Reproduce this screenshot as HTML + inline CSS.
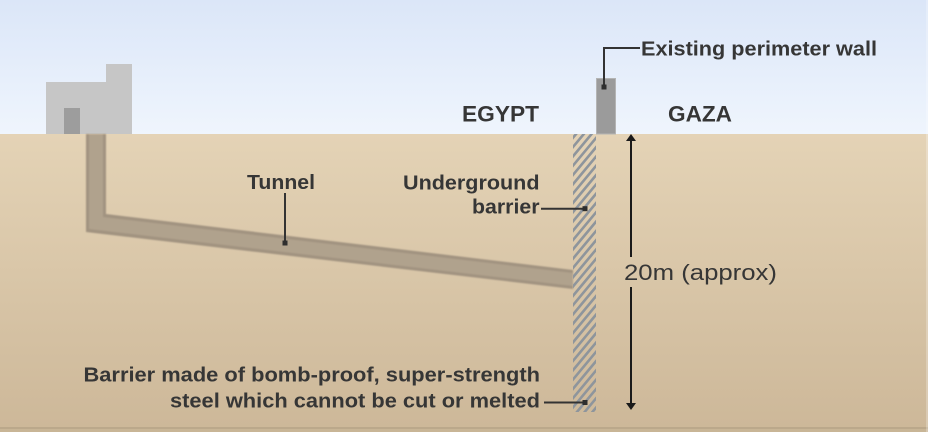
<!DOCTYPE html>
<html><head><meta charset="utf-8"><style>
html,body{margin:0;padding:0;width:928px;height:432px;overflow:hidden;background:#e0cfb2}
svg{display:block}
text{font-family:"Liberation Sans",Arial,sans-serif;fill:#363636}
.b{font-weight:bold}
</style></head><body>
<svg width="928" height="432" viewBox="0 0 928 432" xmlns="http://www.w3.org/2000/svg">
<defs>
<linearGradient id="sky" x1="0" y1="0" x2="0" y2="1">
<stop offset="0" stop-color="#dbe6f8"/><stop offset="1" stop-color="#eff5fd"/>
</linearGradient>
<linearGradient id="gnd" x1="0" y1="0" x2="0" y2="1">
<stop offset="0" stop-color="#e4d3b6"/><stop offset="1" stop-color="#cdb899"/>
</linearGradient>
<clipPath id="hc"><rect x="573" y="134" width="23" height="278"/></clipPath>
<filter id="soft" x="-5%" y="-5%" width="110%" height="110%"><feGaussianBlur stdDeviation="0.7"/></filter>
</defs>
<rect x="0" y="0" width="928" height="134" fill="url(#sky)"/>
<rect x="0" y="134" width="928" height="293" fill="url(#gnd)"/>
<rect x="0" y="427" width="928" height="2" fill="#bba88b"/>
<rect x="0" y="429" width="928" height="3" fill="#c8b596"/>
<rect x="926" y="0" width="2" height="432" fill="#ffffff" opacity="0.25"/>

<!-- house -->
<rect x="46" y="82" width="86" height="52" fill="#c6c6c6"/>
<rect x="106" y="64" width="26" height="20" fill="#c6c6c6"/>
<rect x="64" y="108" width="16" height="26" fill="#9d9d9d"/>

<!-- tunnel -->
<g filter="url(#soft)">
<polygon points="86,134 106,134 106,214 573,270 573,289 86,232" fill="#a19380"/>
<polygon points="89,134 103,134 103,217 573,273 573,286 89,229" fill="#b0a28d"/>
</g>

<!-- hatched barrier -->
<g clip-path="url(#hc)" stroke="#8e959c" stroke-width="2.6">
<line x1="568" y1="134.4" x2="600" y2="96"/>
<line x1="568" y1="143.7" x2="600" y2="105.3"/>
<line x1="568" y1="153" x2="600" y2="114.6"/>
<line x1="568" y1="162.3" x2="600" y2="123.9"/>
<line x1="568" y1="171.6" x2="600" y2="133.2"/>
<line x1="568" y1="180.9" x2="600" y2="142.5"/>
<line x1="568" y1="190.2" x2="600" y2="151.8"/>
<line x1="568" y1="199.5" x2="600" y2="161.1"/>
<line x1="568" y1="208.8" x2="600" y2="170.4"/>
<line x1="568" y1="218.1" x2="600" y2="179.7"/>
<line x1="568" y1="227.4" x2="600" y2="189"/>
<line x1="568" y1="236.7" x2="600" y2="198.3"/>
<line x1="568" y1="246" x2="600" y2="207.6"/>
<line x1="568" y1="255.3" x2="600" y2="216.9"/>
<line x1="568" y1="264.6" x2="600" y2="226.2"/>
<line x1="568" y1="273.9" x2="600" y2="235.5"/>
<line x1="568" y1="283.2" x2="600" y2="244.8"/>
<line x1="568" y1="292.5" x2="600" y2="254.1"/>
<line x1="568" y1="301.8" x2="600" y2="263.4"/>
<line x1="568" y1="311.1" x2="600" y2="272.7"/>
<line x1="568" y1="320.4" x2="600" y2="282"/>
<line x1="568" y1="329.7" x2="600" y2="291.3"/>
<line x1="568" y1="339" x2="600" y2="300.6"/>
<line x1="568" y1="348.3" x2="600" y2="309.9"/>
<line x1="568" y1="357.6" x2="600" y2="319.2"/>
<line x1="568" y1="366.9" x2="600" y2="328.5"/>
<line x1="568" y1="376.2" x2="600" y2="337.8"/>
<line x1="568" y1="385.5" x2="600" y2="347.1"/>
<line x1="568" y1="394.8" x2="600" y2="356.4"/>
<line x1="568" y1="404.1" x2="600" y2="365.7"/>
<line x1="568" y1="413.4" x2="600" y2="375"/>
<line x1="568" y1="422.7" x2="600" y2="384.3"/>
<line x1="568" y1="432" x2="600" y2="393.6"/>
<line x1="568" y1="441.3" x2="600" y2="402.9"/>
<line x1="568" y1="450.6" x2="600" y2="412.2"/>
</g>

<!-- perimeter wall -->
<rect x="596.5" y="78.5" width="19" height="55.5" fill="#9b9b9b" stroke="#b4b4b4" stroke-width="1"/>

<!-- leaders -->
<g stroke="#333" stroke-width="2" fill="none">
<polyline points="604,87 604,48 640,48"/>
<line x1="285" y1="193" x2="285" y2="243"/>
<line x1="541" y1="208.7" x2="585" y2="208.7"/>
<line x1="544" y1="402.5" x2="585" y2="402.5"/>
</g>
<g fill="#2e2e2e">
<rect x="601.5" y="84.5" width="5" height="5"/>
<rect x="282.5" y="240.5" width="5" height="5"/>
<rect x="582.5" y="206.2" width="5" height="5"/>
<rect x="582.5" y="400" width="5" height="5"/>
</g>

<!-- dimension arrow -->
<g stroke="#1a1a1a" stroke-width="2">
<line x1="631" y1="139" x2="631" y2="257"/>
<line x1="631" y1="287" x2="631" y2="405"/>
</g>
<polygon points="631,134 626,141 636,141" fill="#1a1a1a"/>
<polygon points="631,410 626,403 636,403" fill="#1a1a1a"/>

<!-- labels -->
<text class="b" x="641" y="55.5" font-size="20" textLength="236" lengthAdjust="spacingAndGlyphs">Existing perimeter wall</text>
<text class="b" x="462" y="121.5" font-size="22" textLength="77" lengthAdjust="spacingAndGlyphs">EGYPT</text>
<text class="b" x="668" y="121.5" font-size="22" textLength="64" lengthAdjust="spacingAndGlyphs">GAZA</text>
<text class="b" x="247" y="189" font-size="20" textLength="68" lengthAdjust="spacingAndGlyphs">Tunnel</text>
<text class="b" x="403" y="189.5" font-size="20" textLength="136.5" lengthAdjust="spacingAndGlyphs">Underground</text>
<text class="b" x="472" y="213.5" font-size="20" textLength="67.5" lengthAdjust="spacingAndGlyphs">barrier</text>
<text class="b" x="83.5" y="381.5" font-size="20" textLength="456.5" lengthAdjust="spacingAndGlyphs">Barrier made of bomb-proof, super-strength</text>
<text class="b" x="170" y="407.3" font-size="20" textLength="370" lengthAdjust="spacingAndGlyphs">steel which cannot be cut or melted</text>
<text x="624" y="280" font-size="22" textLength="153" lengthAdjust="spacingAndGlyphs">20m (approx)</text>
</svg>
</body></html>
